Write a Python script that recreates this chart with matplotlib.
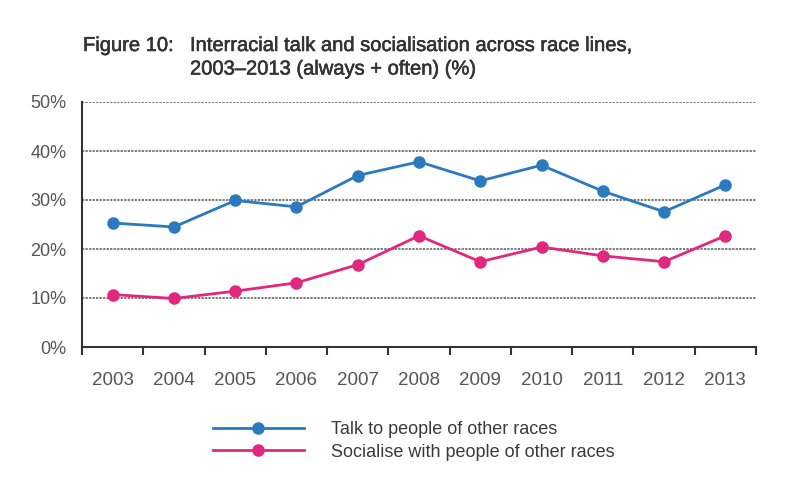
import matplotlib
matplotlib.use("Agg")
import matplotlib.pyplot as plt
import matplotlib.patheffects as pe
from matplotlib.ticker import FixedLocator, FuncFormatter

years = ["2003", "2004", "2005", "2006", "2007", "2008", "2009", "2010", "2011", "2012", "2013"]
talk = [25.3, 24.5, 29.9, 28.6, 35.0, 37.8, 33.9, 37.1, 31.8, 27.6, 33.1]
socialise = [10.7, 9.9, 11.4, 13.1, 16.8, 22.7, 17.4, 20.4, 18.6, 17.4, 22.7]
yticks = [0, 10, 20, 30, 40, 50]
series_labels = ["Talk to people of other races", "Socialise with people of other races"]

plt.rcParams['font.family'] = ['Liberation Sans', 'DejaVu Sans']

fig = plt.figure(figsize=(7.99, 4.82), dpi=100)
ax = fig.add_axes([82/799, 1-347/482, 674/799, 245/482])

x = list(range(len(years)))
blue = "#2b79be"
pink = "#e0287e"
ax.plot(x, talk, color=blue, lw=2.0, marker='o', ms=8, label=series_labels[0], zorder=3)
ax.plot(x, socialise, color=pink, lw=2.0, marker='o', ms=8, label=series_labels[1], zorder=3)

ax.set_xlim(-0.5, len(years) - 0.5)
ax.set_ylim(0, 50)
ax.set_xticks(x)
ax.set_xticklabels(years, fontsize=13.5, color="#555555")
ax.tick_params(axis='x', which='major', length=0, pad=18)
ax.xaxis.set_minor_locator(FixedLocator([i - 0.5 for i in range(len(years) + 1)]))
ax.tick_params(axis='x', which='minor', length=6, width=1.5, color="#333333", direction='out')

ax.set_yticks(yticks)
ax.yaxis.set_major_formatter(FuncFormatter(lambda v, p: f"{int(v)}%"))
ax.tick_params(axis='y', length=0, pad=11, labelsize=13, labelcolor="#555555")

for yv in yticks[1:]:
    ax.axhline(yv, color="#555555", lw=1.1, ls=(0, (1.5, 0.8)), zorder=1)

for s in ['top', 'right']:
    ax.spines[s].set_visible(False)
for s in ['left', 'bottom']:
    ax.spines[s].set_color("#333333")
    ax.spines[s].set_linewidth(1.5)

leg = ax.legend(loc='upper left', bbox_to_anchor=((213 - 82 - 7)/674, -(414 - 347)/245), frameon=False,
                fontsize=13, handlelength=5.0, handletextpad=1.5, labelspacing=0.3,
                borderaxespad=0)
for t in leg.get_texts():
    t.set_color("#3a3a3a")

effects = [pe.withStroke(linewidth=0.4, foreground="#333333")]
fig.text(83/799, 1-36/482, "Figure 10:", fontsize=14.5, color="#333333", va='top', path_effects=effects)
fig.text(190/799, 1-36/482, "Interracial talk and socialisation across race lines,\n2003\u20132013 (always + often) (%)",
         fontsize=14.5, color="#333333", va='top', linespacing=1.3, path_effects=effects)

fig.savefig("out.png", dpi=100)
